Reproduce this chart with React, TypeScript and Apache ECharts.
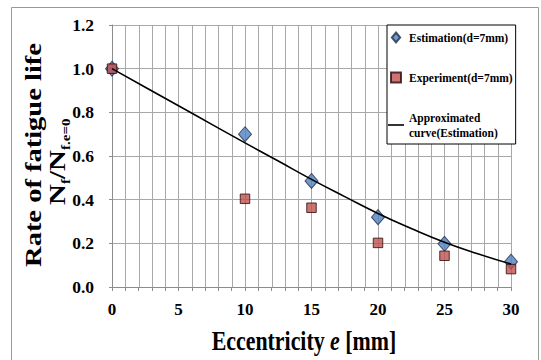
import React, { useEffect, useRef } from "react";
import * as echarts from "echarts";

const eccentricity = [0, 10, 15, 20, 25, 30];
const estimation = [1.0, 0.7, 0.486, 0.32, 0.198, 0.116];
const experiment = [1.0, 0.404, 0.363, 0.202, 0.143, 0.082];
const curveX = [0, 2.5, 5, 7.5, 10, 12.5, 15, 17.5, 20, 22.5, 25, 27.5, 30];
const curveY = [1.0, 0.915, 0.83, 0.745, 0.66, 0.577, 0.493, 0.414, 0.337, 0.268, 0.205, 0.152, 0.105];
const minorGridX = [1, 2, 3, 4, 6, 7, 8, 9, 11, 12, 13, 14, 16, 17, 18, 19, 21, 22, 23, 24, 26, 27, 28, 29];
const legendNames = ["Estimation(d=7mm)", "Experiment(d=7mm)", "Approximated\ncurve(Estimation)"];

const serif = "Liberation Serif";
const narrow = "Liberation Sans Narrow";

const tBold = (text: string, x: number, y: number, size: number) => ({
  type: "text",
  x,
  y,
  style: {
    text,
    fontFamily: serif,
    fontWeight: "bold",
    fontSize: size,
    fill: "#000",
    align: "left",
    verticalAlign: "middle",
  },
});

export default function App() {
  const ref = useRef<HTMLDivElement>(null);
  useEffect(() => {
    if (!ref.current) return;
    const chart = echarts.init(ref.current, null, { renderer: "svg" });
    chart.setOption({
      animation: false,
      backgroundColor: "#ffffff",
      grid: { left: 112, right: 30, top: 25, bottom: 73 },
      xAxis: {
        type: "value",
        min: 0,
        max: 30,
        interval: 5,
        axisLine: { show: true, lineStyle: { color: "#8c8c8c", width: 1 } },
        axisTick: { show: true, length: 4, lineStyle: { color: "#8c8c8c" } },
        minorTick: { show: true, splitNumber: 5, length: 4, lineStyle: { color: "#8c8c8c", width: 1 } },
        splitLine: { show: true, lineStyle: { color: "#a8a8a8", width: 1 } },
        axisLabel: { color: "#000", fontFamily: narrow, fontWeight: "bold", fontSize: 17, margin: 14 },
      },
      yAxis: {
        type: "value",
        min: 0,
        max: 1.2,
        interval: 0.2,
        axisLine: { show: true, lineStyle: { color: "#8c8c8c", width: 1 } },
        axisTick: { show: true, length: 3, lineStyle: { color: "#8c8c8c" } },
        splitLine: { show: true, lineStyle: { color: "#a8a8a8", width: 1 } },
        axisLabel: {
          color: "#000",
          fontFamily: serif,
          fontWeight: "bold",
          fontSize: 17.5,
          margin: 18,
          formatter: (v: number) => v.toFixed(1),
        },
      },
      legend: {
        orient: "vertical",
        left: 387,
        top: 25,
        z: 10,
        padding: [5, 3, 4, 1],
        itemGap: 25,
        itemWidth: 16,
        itemHeight: 10,
        backgroundColor: "#ffffff",
        borderColor: "#000000",
        borderWidth: 1,
        borderRadius: 0,
        textStyle: { color: "#000", fontFamily: serif, fontWeight: "bold", fontSize: 11.5, lineHeight: 15 },
        data: [
          { name: legendNames[0], icon: "path://M5,0L10,6L5,12L0,6Z" },
          { name: legendNames[1], icon: "path://M0,0L10,0L10,10L0,10Z" },
          { name: legendNames[2], icon: "path://M0,0L16,0L16,1.6L0,1.6Z" },
        ],
      },
      series: [
        {
          name: "minor-grid",
          type: "custom",
          z: 1,
          silent: true,
          clip: false,
          data: minorGridX.map((v) => [v, 0.6]),
          encode: { x: 0, y: 1 },
          renderItem: (params: any, api: any) => {
            const v = api.value(0);
            const p0 = api.coord([v, 0]);
            const p1 = api.coord([v, 1.2]);
            const x = Math.round(p0[0]) + 0.5;
            return {
              type: "rect",
              silent: true,
              shape: { x: x - 0.5, y: p1[1], width: 1, height: p0[1] - p1[1] },
              style: { fill: "#a8a8a8" },
            };
          },
        },
        {
          name: legendNames[0],
          type: "scatter",
          symbol: "diamond",
          symbolSize: [13, 15],
          z: 2,
          itemStyle: { color: "#4f81bd", borderColor: "#1f2f4f", borderWidth: 1 },
          data: eccentricity.map((x, i) => [x, estimation[i]]),
        },
        {
          name: legendNames[1],
          type: "scatter",
          symbol: "rect",
          symbolSize: 9.5,
          z: 3,
          itemStyle: { color: "#c0504d", borderColor: "#2a0a0a", borderWidth: 1 },
          data: eccentricity.map((x, i) => [x, experiment[i]]),
        },
        {
          name: legendNames[2],
          type: "line",
          smooth: true,
          symbol: "none",
          z: 4,
          lineStyle: { color: "#000", width: 1.6 },
          itemStyle: { color: "#000" },
          data: curveX.map((x, i) => [x, curveY[i]]),
        },
      ],
      graphic: [
        {
          type: "rect",
          z: -10,
          silent: true,
          shape: { x: 11.5, y: 7.5, width: 527, height: 360 },
          style: { fill: "none", stroke: "#999999", lineWidth: 1 },
        },
        {
          type: "text",
          x: 33,
          y: 155,
          rotation: Math.PI / 2,
          scaleY: 0.8,
          style: {
            text: "Rate of fatigue life",
            fontFamily: serif,
            fontWeight: "bold",
            fontSize: 28.5,
            fill: "#000",
            align: "center",
            verticalAlign: "middle",
          },
        },
        {
          type: "group",
          x: 57,
          y: 205,
          rotation: Math.PI / 2,
          scaleY: 0.8,
          children: [
            tBold("N", 0, 0, 29),
            tBold("f", 21, 11, 15),
            tBold("/N", 26, 0, 29),
            tBold("f.e=0", 55, 11, 15),
          ],
        },
        {
          type: "text",
          x: 304,
          y: 341,
          scaleX: 0.81,
          style: {
            text: "{a|Eccentricity }{b|e}{a| [mm]}",
            fill: "#000",
            align: "center",
            verticalAlign: "middle",
            rich: {
              a: { fontFamily: serif, fontWeight: "bold", fontSize: 27 },
              b: { fontFamily: serif, fontWeight: "bold", fontStyle: "italic", fontSize: 27 },
            },
          },
        },
      ],
    });
    return () => chart.dispose();
  }, []);
  return <div ref={ref} style={{ width: 541, height: 360, position: "absolute", left: 0, top: 0 }} />;
}
